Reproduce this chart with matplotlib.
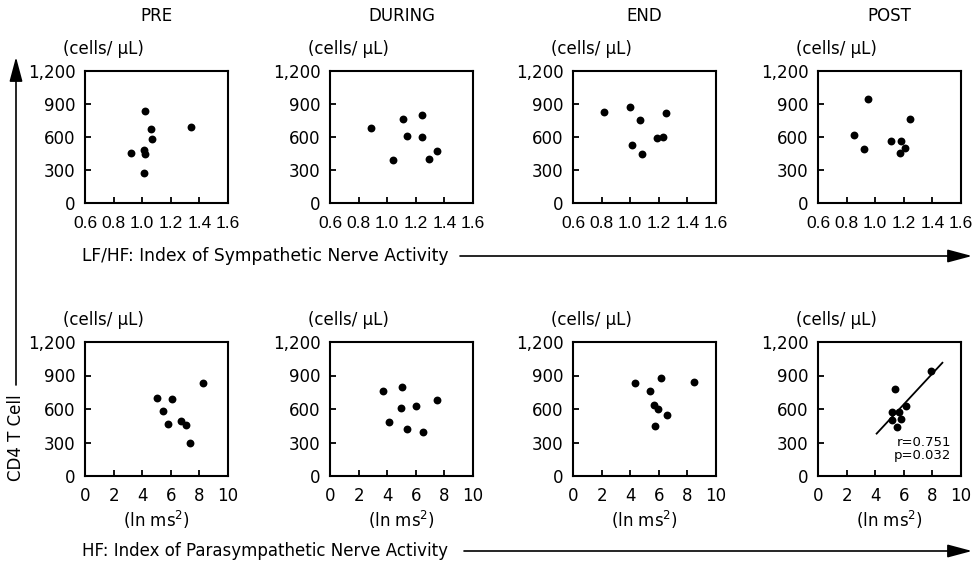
import numpy as np
import matplotlib
matplotlib.use("Agg")
import matplotlib.pyplot as plt
from matplotlib.patches import FancyArrowPatch

plt.rcParams['font.family'] = ['DejaVu Sans']

phases = ["PRE", "DURING", "END", "POST"]

# LF/HF vs CD4 T cell (top row)
lfhf_x = [
    [0.92, 1.02, 1.06, 1.07, 1.01, 1.02, 1.01, 1.34],
    [0.89, 1.11, 1.24, 1.14, 1.24, 1.04, 1.29, 1.35],
    [0.82, 1.00, 1.07, 1.25, 1.19, 1.23, 1.01, 1.08],
    [0.95, 1.24, 0.85, 0.92, 1.11, 1.18, 1.21, 1.17],
]
lfhf_y = [
    [453, 840, 674, 580, 478, 450, 272, 689],
    [680, 762, 798, 611, 602, 393, 402, 472],
    [828, 877, 753, 816, 595, 604, 529, 444],
    [943, 765, 620, 487, 562, 562, 496, 459],
]

# HF vs CD4 T cell (bottom row)
hf_x = [
    [5.03, 6.08, 5.45, 5.80, 6.74, 7.04, 7.37, 8.23],
    [3.69, 5.06, 4.99, 6.02, 7.51, 4.12, 5.39, 6.52],
    [4.31, 6.13, 8.46, 5.38, 5.66, 5.97, 6.55, 5.76],
    [7.88, 5.36, 5.17, 5.66, 6.13, 5.83, 5.17, 5.50],
]
hf_y = [
    [696, 693, 579, 462, 492, 459, 297, 831],
    [759, 801, 609, 630, 684, 480, 420, 396],
    [831, 882, 840, 762, 636, 600, 543, 444],
    [942, 777, 576, 576, 627, 513, 502, 442],
]

lfhf_ticks = [0.6, 0.8, 1.0, 1.2, 1.4, 1.6]
hf_ticks = [0, 2, 4, 6, 8, 10]
cd4_ticks = [0, 300, 600, 900, 1200]
cd4_labels = ["0", "300", "600", "900", "1,200"]
fit_range = [4.1, 8.7]

W, H = 977, 562
fig = plt.figure(figsize=(W / 100, H / 100), dpi=100)

lefts = [85, 330, 573, 818]
aw = 143


def make_ax(left, top, h):
    ax = fig.add_axes([left / W, 1 - (top + h) / H, aw / W, h / H])
    for s in ax.spines.values():
        s.set_linewidth(1.5)
    ax.tick_params(direction='in', length=4, width=1.3, top=False, right=False)
    ax.tick_params(axis='y', labelsize=12, pad=7)
    ax.set_yticks(cd4_ticks)
    ax.set_yticklabels(cd4_labels)
    ax.set_ylim(0, 1200)
    ax.text(-0.155, 1 + 22 / h, "(cells/ \u03bcL)", transform=ax.transAxes,
            fontsize=12, ha='left', va='center')
    return ax


for i in range(4):
    ax = make_ax(lefts[i], 71, 132)
    ax.scatter(lfhf_x[i], lfhf_y[i], s=32, color='black', zorder=3, linewidths=0)
    ax.set_xlim(0.6, 1.6)
    ax.set_xticks(lfhf_ticks)
    ax.set_xticklabels([f"{t:.1f}" for t in lfhf_ticks],
                       family='Liberation Sans', fontsize=12.5)
    ax.tick_params(axis='x', pad=9)
    fig.text((lefts[i] + aw / 2) / W, 1 - 16 / H, phases[i], ha='center',
             va='center', fontsize=12)

    ax = make_ax(lefts[i], 342, 134)
    ax.scatter(hf_x[i], hf_y[i], s=32, color='black', zorder=3, linewidths=0)
    ax.set_xlim(0, 10)
    ax.set_xticks(hf_ticks)
    ax.tick_params(axis='x', labelsize=12, pad=8)
    ax.set_xlabel("(ln ms$^2$)", fontsize=12, labelpad=3)
    if i == 3:
        slope, icpt = np.polyfit(hf_x[i], hf_y[i], 1)
        fx = np.array(fit_range)
        ax.plot(fx, slope * fx + icpt, color='black', lw=1.3)
        ax.text(0.93, 0.20, "r=0.751\np=0.032", transform=ax.transAxes,
                ha='right', va='center', fontsize=9.5, linespacing=1.0)

# figure-level labels and arrows
fig.text(82 / W, 1 - 256 / H, "LF/HF: Index of Sympathetic Nerve Activity",
         ha='left', va='center', fontsize=12.3)
fig.text(82 / W, 1 - 551 / H, "HF: Index of Parasympathetic Nerve Activity",
         ha='left', va='center', fontsize=12)
fig.text(16 / W, 1 - 438 / H, "CD4 T Cell", rotation=90, ha='center',
         va='center', fontsize=12)

arrow = dict(arrowstyle='-|>,head_length=1.5,head_width=0.4', color='black',
             lw=1.2, shrinkA=0, shrinkB=0, mutation_scale=10,
             transform=fig.transFigure)
fig.add_artist(FancyArrowPatch((460 / W, 1 - 256 / H), (972 / W, 1 - 256 / H), **arrow))
fig.add_artist(FancyArrowPatch((464 / W, 1 - 551 / H), (972 / W, 1 - 551 / H), **arrow))
fig.add_artist(FancyArrowPatch((16 / W, 1 - 385 / H), (16 / W, 1 - 57 / H), **arrow))

fig.savefig("out.png", dpi=100)
